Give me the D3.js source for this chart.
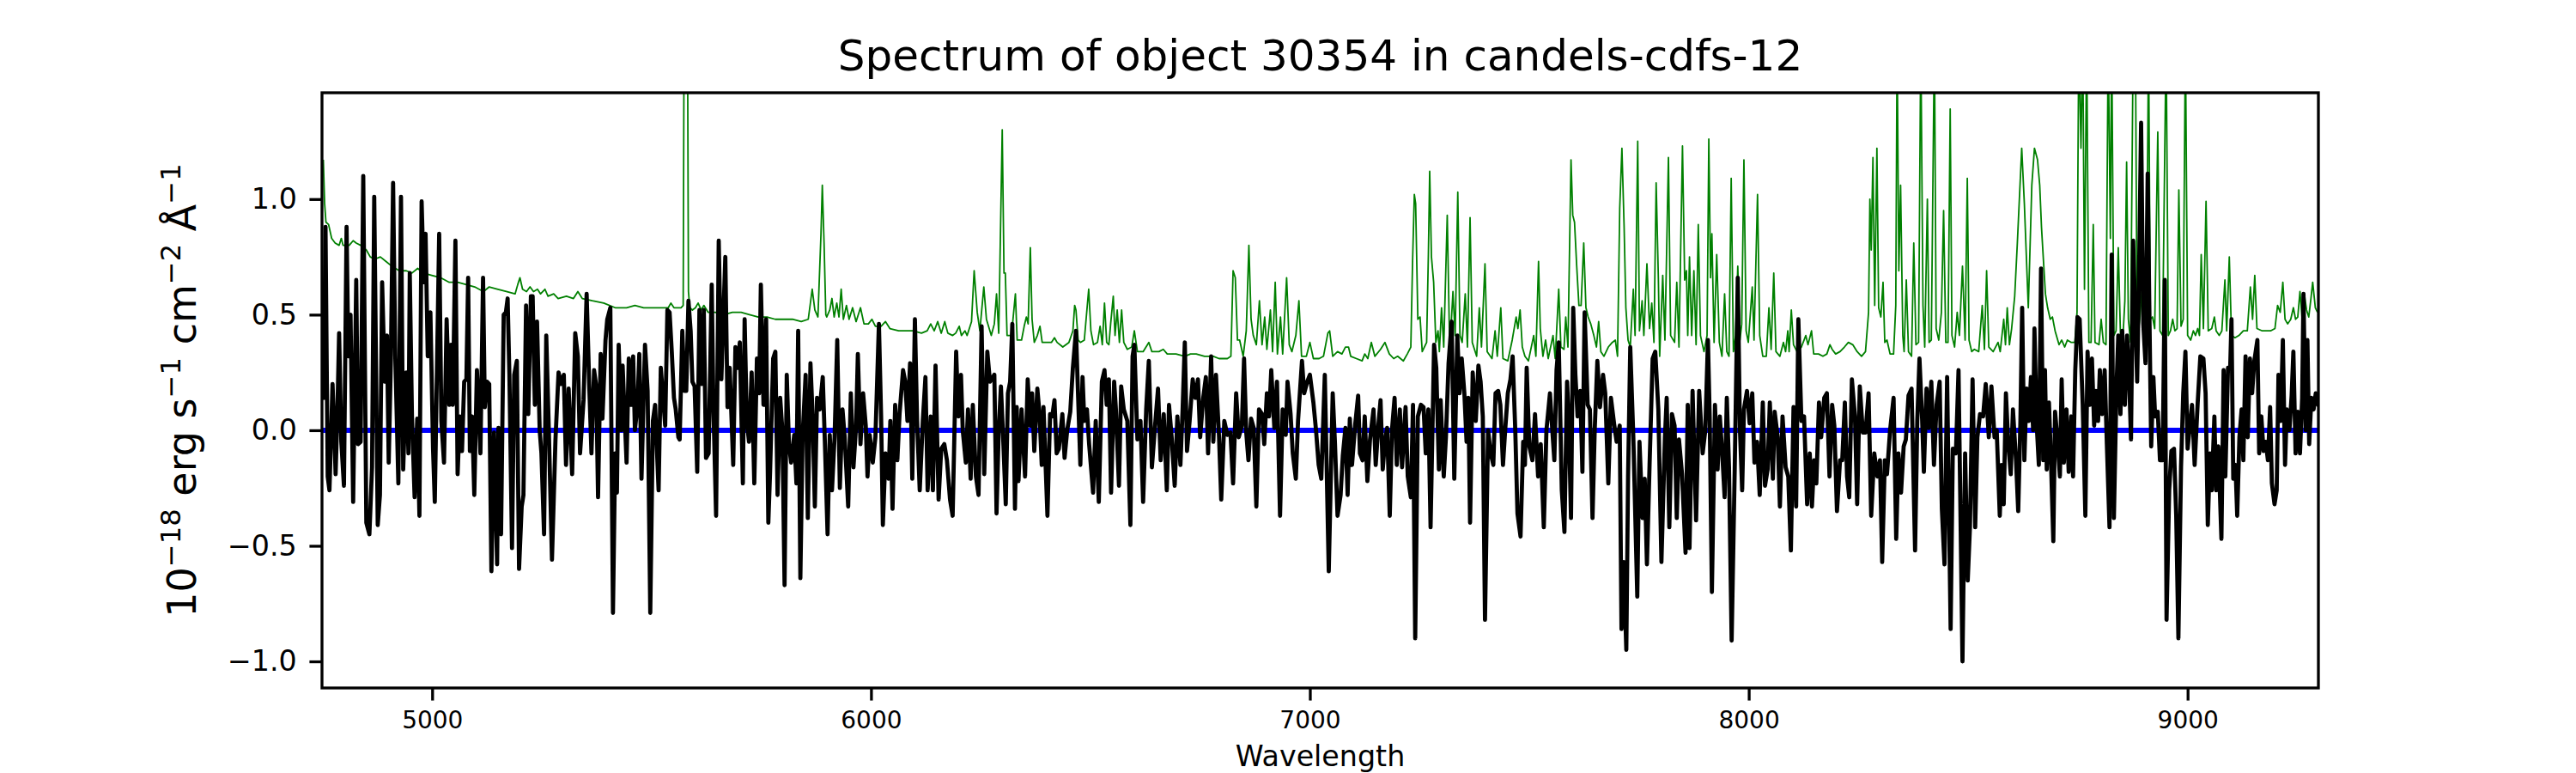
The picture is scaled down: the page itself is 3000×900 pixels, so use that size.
<!DOCTYPE html>
<html>
<head>
<meta charset="utf-8">
<script src="https://cdn.jsdelivr.net/npm/d3@7/dist/d3.min.js"></script>
<style>
  body { margin: 0; background: #fff; }
  svg text { font-family: "DejaVu Sans", sans-serif; fill: #000; }
</style>
</head>
<body>
<div id="chart"></div>
<script>
// figure size and axes box (same proportions as the original plot)
const w = 3000;
const h = 900;
const margin = { left: 375, right: 300, top: 108, bottom: 99 };

// wavelength range shown and tick values
const xDomain = [4749, 9298];
const yDomain = [-1.115, 1.46];
const xTicks = [5000, 6000, 7000, 8000, 9000];
const yTicks = [-1.0, -0.5, 0.0, 0.5, 1.0];

// object flux [wavelength, flux]
const fluxPoints = [
  [4753,0.14],[4757,0.88],[4762,-0.2],[4766,-0.26],[4773,0.2],[4777,0],[4780,-0.19],[4784,0.07],[4788,0.42],[4793,-0.05],
  [4799,-0.24],[4805,0.88],[4809,0.32],[4814,0.5],[4820,-0.31],[4827,0.65],[4831,-0.06],[4837,-0.05],[4843,1.1],[4850,-0.4],
  [4857,-0.45],[4863,-0.16],[4868,1.01],[4876,-0.41],[4881,-0.28],[4886,0.64],[4892,0.21],[4897,0.41],[4901,-0.14],[4906,0.31],
  [4911,1.07],[4916,0.32],[4923,-0.23],[4929,1.01],[4934,-0.17],[4941,0.25],[4946,-0.1],[4949,0.68],[4954,0.06],[4960,-0.29],
  [4966,0.05],[4971,-0.37],[4976,0.99],[4981,0.64],[4985,0.85],[4990,0.32],[4996,0.51],[5002,-0.08],[5006,-0.31],[5016,0.85],
  [5021,0.04],[5027,-0.14],[5033,0.48],[5039,0.11],[5043,0.37],[5047,0.11],[5053,0.82],[5058,-0.19],[5063,0.06],[5068,-0.09],
  [5073,0.21],[5078,0.22],[5082,0.66],[5086,-0.09],[5091,0.06],[5096,-0.28],[5102,0.26],[5106,0.11],[5110,-0.1],[5116,0.66],
  [5120,0.1],[5125,0.21],[5130,0.2],[5135,-0.61],[5141,-0.01],[5148,-0.58],[5151,0.01],[5157,-0.45],[5163,0.5],[5168,0.51],
  [5172,0.57],[5176,0.24],[5182,-0.51],[5187,0.24],[5193,0.3],[5198,-0.6],[5204,-0.33],[5208,-0.28],[5214,0.54],[5219,0.07],
  [5225,0.58],[5229,0.58],[5234,0.11],[5239,0.47],[5245,0],[5249,-0.1],[5255,-0.45],[5260,0.41],[5266,-0.01],[5273,-0.56],
  [5281,-0.04],[5288,0.25],[5294,0.2],[5300,0.24],[5305,-0.15],[5311,0.18],[5319,-0.19],[5326,0.42],[5332,0.32],[5337,-0.1],
  [5345,0.13],[5352,0.59],[5358,0.19],[5363,-0.1],[5369,0.26],[5374,0.19],[5378,-0.29],[5384,0.33],[5388,0.05],[5395,0.39],
  [5399,0.48],[5406,0.53],[5412,-0.79],[5417,-0.1],[5421,-0.27],[5425,0.37],[5431,0],[5434,0.28],[5443,-0.14],[5448,0.31],
  [5453,0.11],[5458,0.32],[5462,0],[5468,0.11],[5472,0.33],[5477,-0.21],[5485,0.37],[5491,0.17],[5497,-0.79],[5503,0.04],
  [5508,0.11],[5516,-0.26],[5521,0.27],[5531,0.02],[5536,0.52],[5541,0.51],[5546,0.34],[5551,0.14],[5555,0.09],[5561,-0.03],
  [5564,-0.04],[5570,0.43],[5575,0.17],[5579,0.17],[5584,0.56],[5589,0.43],[5593,0.21],[5598,0.19],[5604,-0.18],[5609,0.52],
  [5614,0.2],[5619,0.52],[5624,-0.12],[5630,-0.1],[5637,0.63],[5641,0.09],[5647,-0.37],[5653,0.82],[5659,0.22],[5668,0.75],
  [5673,0.1],[5678,0.27],[5686,-0.15],[5691,0.36],[5696,0.27],[5701,0.38],[5708,-0.23],[5712,0.48],[5717,0.04],[5722,-0.05],
  [5728,0.25],[5734,-0.23],[5740,0.31],[5745,0.16],[5749,0.63],[5755,0.11],[5761,0.48],[5766,-0.4],[5770,-0.18],[5777,0.31],
  [5782,0.34],[5787,-0.28],[5793,0.14],[5798,0],[5803,-0.67],[5808,0.24],[5813,-0.06],[5818,-0.14],[5825,-0.02],[5830,-0.23],
  [5834,0.43],[5839,-0.64],[5844,-0.03],[5851,0.24],[5856,-0.38],[5862,0.29],[5867,0.06],[5872,-0.33],[5877,0.14],[5883,0.09],
  [5890,0.23],[5895,-0.06],[5901,-0.45],[5906,-0.02],[5911,-0.26],[5917,-0.03],[5923,0.39],[5929,-0.25],[5935,0.09],[5940,-0.03],
  [5948,-0.33],[5954,0.16],[5960,-0.16],[5966,0.02],[5970,0.33],[5976,-0.06],[5982,0.16],[5988,0.02],[5992,-0.2],[5997,-0.02],
  [6004,-0.14],[6010,-0.03],[6018,0.46],[6023,0.06],[6027,-0.41],[6033,-0.1],[6040,-0.21],[6044,0.04],[6049,-0.34],[6055,0.11],
  [6060,-0.13],[6065,0.07],[6073,0.26],[6078,0.21],[6083,0.04],[6089,0.29],[6094,-0.21],[6100,0.48],[6105,0.04],[6111,-0.26],
  [6118,0.04],[6124,0.23],[6129,-0.26],[6136,0.06],[6141,-0.26],[6147,0.28],[6154,-0.3],[6160,-0.08],[6167,-0.06],[6173,-0.13],
  [6180,-0.3],[6186,-0.37],[6194,0.34],[6199,0.06],[6205,0.24],[6209,0],[6216,-0.14],[6221,0.09],[6227,-0.21],[6232,0.11],
  [6239,-0.2],[6245,-0.28],[6252,0.45],[6258,-0.19],[6265,0.34],[6271,0.21],[6281,0.24],[6286,-0.36],[6291,0],[6296,0.19],
  [6301,-0.03],[6307,-0.32],[6312,0.16],[6317,0.21],[6322,0.46],[6328,-0.34],[6332,0.1],[6336,-0.22],[6343,0.09],[6347,-0.06],
  [6351,-0.2],[6357,0.22],[6363,0.02],[6367,0.16],[6372,-0.09],[6379,0.18],[6384,0.07],[6389,-0.15],[6393,0.1],[6402,-0.37],
  [6408,0.07],[6413,0.06],[6418,0.13],[6423,-0.1],[6428,-0.08],[6436,0.07],[6441,-0.12],[6447,0],[6454,0.08],[6460,0.27],
  [6467,0.43],[6472,0.14],[6477,-0.15],[6482,0.23],[6486,0.04],[6492,0.09],[6497,-0.06],[6506,-0.27],[6512,0.04],[6519,-0.31],
  [6526,0.21],[6532,0.26],[6537,0.11],[6542,0.22],[6547,-0.27],[6554,0.21],[6558,0.09],[6565,-0.24],[6570,0.19],[6576,0.09],
  [6584,0.04],[6591,-0.41],[6596,0.32],[6600,0.37],[6607,-0.04],[6614,0.04],[6620,-0.31],[6627,0.09],[6633,0.3],[6640,-0.16],
  [6646,-0.01],[6654,0.18],[6660,-0.13],[6667,0.07],[6674,-0.26],[6679,0.11],[6685,-0.03],[6692,-0.24],[6698,0.06],[6705,-0.15],
  [6710,0.09],[6715,0.38],[6720,-0.09],[6726,0.04],[6733,0.22],[6739,0.14],[6745,0.22],[6750,-0.03],[6757,0.14],[6763,0.23],
  [6768,-0.1],[6775,0.32],[6780,-0.05],[6786,0.24],[6793,-0.03],[6798,-0.3],[6805,0.04],[6812,-0.02],[6819,-0.01],[6825,-0.23],
  [6832,0.16],[6838,-0.03],[6845,0.02],[6850,0.31],[6855,-0.01],[6860,-0.13],[6866,0.05],[6872,0.01],[6878,-0.33],[6884,0.09],
  [6891,0.07],[6896,-0.06],[6902,0.16],[6907,0.06],[6912,0.26],[6919,0.01],[6925,0.21],[6932,-0.37],[6938,0.09],[6945,-0.02],
  [6949,0.21],[6956,0.07],[6961,-0.1],[6968,-0.21],[6973,0.04],[6982,0.3],[6987,0.16],[6994,0.21],[7000,0.24],[7008,0.12],
  [7014,0],[7020,-0.15],[7026,-0.21],[7034,0.24],[7043,-0.61],[7052,0.16],[7057,-0.05],[7063,-0.37],[7070,-0.28],[7075,-0.11],
  [7081,0.01],[7086,-0.28],[7091,0.05],[7096,-0.15],[7103,0.02],[7110,0.15],[7114,-0.1],[7120,-0.13],[7125,0.06],[7131,-0.22],
  [7137,-0.04],[7145,0.09],[7150,-0.15],[7156,0.02],[7161,0.13],[7166,-0.17],[7171,-0.05],[7176,0.01],[7182,-0.37],[7187,0],
  [7193,0.14],[7198,-0.15],[7205,0.09],[7210,-0.16],[7218,0.1],[7223,-0.2],[7230,-0.29],[7235,0.11],[7240,-0.9],[7246,0.06],
  [7253,0.11],[7259,0.1],[7264,-0.1],[7270,0.09],[7275,-0.42],[7283,0.37],[7288,0.27],[7294,-0.17],[7298,0.13],[7305,-0.2],
  [7310,-0.03],[7316,0.29],[7323,0.47],[7329,-0.21],[7336,0.41],[7341,0.16],[7346,0.31],[7352,0.16],[7357,-0.05],[7361,0.14],
  [7365,-0.4],[7371,0.25],[7378,0.04],[7384,0.28],[7389,0.21],[7394,0.06],[7399,-0.82],[7406,0],[7412,-0.1],[7418,-0.15],
  [7423,0.16],[7429,0.17],[7434,0.11],[7440,-0.15],[7445,0],[7451,0.16],[7457,0.22],[7462,0.32],[7468,0],[7473,-0.36],
  [7480,-0.46],[7486,-0.05],[7490,-0.15],[7494,0.27],[7500,-0.07],[7507,-0.13],[7513,0.07],[7520,-0.2],[7526,-0.06],[7533,-0.42],
  [7539,0],[7547,0.16],[7551,0.04],[7557,-0.13],[7562,0.26],[7567,0.38],[7574,-0.26],[7580,-0.44],[7586,0.21],[7590,0.04],
  [7595,-0.38],[7600,0.53],[7605,0.24],[7610,0.06],[7616,0.17],[7621,-0.18],[7626,0.51],[7633,0.11],[7638,0.09],[7644,-0.38],
  [7649,0],[7655,0.3],[7661,0.1],[7668,0.24],[7673,0.16],[7680,-0.23],[7686,0.14],[7693,0.03],[7699,-0.05],[7706,0.02],
  [7710,-0.86],[7715,-0.57],[7721,-0.95],[7725,-0.2],[7730,0.36],[7737,-0.03],[7746,-0.72],[7751,-0.05],[7758,-0.38],[7763,-0.21],
  [7768,-0.58],[7774,-0.15],[7781,0.31],[7787,0.34],[7794,0.09],[7801,-0.57],[7809,-0.03],[7813,0.14],[7819,-0.42],[7825,0.07],
  [7831,0.02],[7836,-0.38],[7841,-0.04],[7848,-0.19],[7856,-0.53],[7861,0.11],[7865,-0.51],[7872,0.17],[7880,-0.39],[7887,0.17],
  [7895,-0.1],[7901,0],[7907,0.39],[7911,0.06],[7916,-0.7],[7923,0.11],[7929,-0.17],[7934,0.06],[7939,-0.08],[7945,-0.29],
  [7950,0.14],[7955,-0.16],[7961,-0.91],[7968,-0.17],[7975,0.66],[7980,0],[7985,-0.26],[7989,0.09],[7996,0.17],[8002,0.03],
  [8008,0.16],[8013,-0.14],[8019,-0.05],[8025,-0.28],[8032,0.12],[8037,-0.24],[8043,-0.17],[8048,0.12],[8055,-0.21],[8059,0.08],
  [8066,-0.03],[8071,-0.33],[8077,0.06],[8084,-0.16],[8090,-0.2],[8096,-0.52],[8102,0.1],[8108,-0.33],[8113,0.48],[8120,0.04],
  [8126,0.06],[8133,-0.32],[8139,-0.1],[8144,-0.33],[8149,-0.13],[8154,-0.23],[8160,0.12],[8165,-0.03],[8172,0.14],[8178,0.16],
  [8184,-0.2],[8190,0.11],[8195,0.02],[8201,-0.35],[8208,-0.13],[8213,-0.13],[8219,0.12],[8224,-0.2],[8229,-0.29],[8235,0.22],
  [8242,0.06],[8247,-0.32],[8253,0.19],[8260,-0.01],[8266,-0.01],[8273,0.16],[8279,-0.37],[8286,-0.1],[8293,-0.2],[8299,-0.13],
  [8304,-0.57],[8310,-0.13],[8315,-0.19],[8322,0],[8330,0.14],[8336,-0.47],[8341,-0.1],[8347,-0.27],[8353,-0.07],[8358,-0.04],
  [8364,0.15],[8371,0.18],[8379,-0.52],[8384,0.04],[8389,0.31],[8395,0.05],[8399,-0.18],[8405,0.18],[8410,0.01],[8416,0.21],
  [8422,-0.15],[8428,0.11],[8435,0.21],[8440,-0.34],[8446,-0.58],[8452,0.23],[8460,-0.86],[8465,-0.08],[8472,-0.1],[8478,0.26],
  [8487,-1.0],[8493,-0.1],[8499,-0.65],[8504,-0.42],[8510,0.22],[8516,-0.42],[8521,-0.03],[8527,0.07],[8534,0.06],[8540,0.2],
  [8547,-0.03],[8553,0.19],[8560,-0.03],[8565,0],[8572,-0.37],[8576,-0.15],[8581,-0.32],[8586,0.16],[8591,-0.05],[8597,-0.19],
  [8602,0.09],[8609,-0.13],[8614,-0.35],[8619,0.04],[8623,0.53],[8628,-0.13],[8633,0.18],[8638,0.04],[8643,0.23],[8648,0],
  [8651,0.44],[8656,0.03],[8661,-0.15],[8666,0.7],[8671,-0.13],[8675,0.26],[8679,-0.17],[8684,0.12],[8688,-0.09],[8694,-0.48],
  [8698,0.08],[8703,-0.03],[8709,-0.2],[8713,0.22],[8718,-0.14],[8724,0.09],[8729,-0.18],[8735,0.06],[8739,-0.2],[8744,0.26],
  [8749,0.49],[8754,0.48],[8761,0.11],[8767,-0.37],[8772,0.34],[8777,0.11],[8782,0.31],[8787,0.02],[8791,0.17],[8796,0.04],
  [8800,0.26],[8805,0.07],[8811,0.26],[8816,-0.06],[8822,-0.42],[8827,0.76],[8832,-0.38],[8838,0.19],[8842,0.41],[8847,0.07],
  [8851,0.43],[8857,0.11],[8862,0.41],[8866,0.27],[8871,-0.04],[8876,0.82],[8881,0.48],[8885,0.21],[8889,0.63],[8894,1.33],
  [8899,0.46],[8904,0.29],[8909,1.11],[8913,0.49],[8917,-0.07],[8922,0.23],[8926,0.06],[8932,0.08],[8937,-0.13],[8943,-0.13],
  [8948,0.65],[8952,-0.82],[8958,-0.26],[8963,-0.09],[8969,-0.08],[8974,-0.37],[8979,-0.9],[8985,-0.16],[8990,0.16],[8995,0.34],
  [9000,-0.08],[9005,0.02],[9010,0.11],[9016,-0.15],[9023,0.12],[9029,0.32],[9036,0.31],[9041,0.16],[9046,-0.41],[9051,-0.1],
  [9055,-0.26],[9061,0.06],[9065,-0.26],[9070,-0.07],[9077,-0.47],[9082,0.26],[9086,-0.2],[9092,0.27],[9097,0.27],[9100,0.48],
  [9104,-0.21],[9109,-0.15],[9113,-0.37],[9118,-0.03],[9123,0.09],[9127,-0.13],[9132,0.32],[9137,-0.03],[9142,0.31],[9147,0.16],
  [9152,0.3],[9159,0.39],[9163,-0.1],[9168,0.06],[9173,-0.09],[9178,-0.05],[9183,-0.13],[9188,0.1],[9192,-0.23],[9198,-0.32],
  [9203,-0.26],[9207,0.24],[9212,0.04],[9217,0.39],[9222,-0.15],[9226,0.09],[9232,0],[9237,0.15],[9241,0.34],[9246,-0.1],
  [9251,0.08],[9256,-0.1],[9261,0.14],[9264,0.59],[9269,0],[9273,0.39],[9277,-0.06],[9282,0.14],[9287,0.09],[9292,0.16],
  [9297,0.11]
];

// sky spectrum (green)
const skyPoints = [
  [4752,1.17],[4755,0.98],[4758,0.9],[4764,0.89],[4771,0.83],[4779,0.81],[4788,0.8],[4793,0.83],[4797,0.8],[4811,0.8],
  [4820,0.82],[4827,0.81],[4837,0.8],[4850,0.78],[4859,0.75],[4869,0.74],[4882,0.75],[4895,0.73],[4908,0.71],[4925,0.69],
  [4941,0.69],[4954,0.68],[4967,0.7],[4980,0.68],[4999,0.67],[5019,0.66],[5039,0.64],[5058,0.64],[5078,0.63],[5097,0.62],
  [5117,0.6],[5130,0.62],[5150,0.61],[5169,0.6],[5189,0.59],[5195,0.63],[5200,0.66],[5206,0.61],[5215,0.6],[5223,0.62],
  [5231,0.6],[5240,0.61],[5247,0.59],[5257,0.61],[5264,0.58],[5277,0.59],[5287,0.57],[5306,0.58],[5322,0.57],[5332,0.6],
  [5342,0.57],[5365,0.56],[5391,0.55],[5417,0.53],[5443,0.53],[5462,0.54],[5482,0.53],[5508,0.53],[5521,0.53],[5538,0.53],
  [5544,0.55],[5551,0.53],[5567,0.53],[5572,0.54],[5575,2.3],[5578,3.0],[5581,2.2],[5584,0.6],[5587,0.53],[5593,0.52],
  [5600,0.53],[5606,0.55],[5613,0.52],[5619,0.54],[5629,0.51],[5645,0.51],[5665,0.5],[5684,0.51],[5704,0.51],[5723,0.5],
  [5743,0.49],[5763,0.49],[5782,0.48],[5802,0.48],[5821,0.48],[5841,0.47],[5857,0.48],[5866,0.61],[5872,0.52],[5879,0.49],
  [5886,0.85],[5889,1.06],[5893,0.81],[5897,0.5],[5899,0.49],[5906,0.52],[5911,0.57],[5916,0.49],[5922,0.55],[5927,0.49],
  [5932,0.61],[5937,0.48],[5944,0.54],[5950,0.48],[5958,0.53],[5966,0.47],[5976,0.53],[5984,0.46],[5994,0.46],[6002,0.48],
  [6010,0.45],[6023,0.45],[6033,0.47],[6043,0.44],[6063,0.43],[6076,0.43],[6095,0.43],[6115,0.42],[6128,0.43],[6136,0.46],
  [6144,0.43],[6152,0.47],[6160,0.42],[6168,0.47],[6175,0.42],[6186,0.41],[6193,0.42],[6201,0.45],[6206,0.41],[6214,0.43],
  [6219,0.41],[6229,0.47],[6235,0.69],[6242,0.51],[6248,0.43],[6257,0.62],[6263,0.48],[6274,0.41],[6281,0.46],[6286,0.59],
  [6291,0.42],[6299,1.3],[6303,0.68],[6306,0.68],[6310,0.41],[6320,0.41],[6329,0.59],[6333,0.39],[6343,0.39],[6349,0.45],
  [6354,0.49],[6358,0.46],[6363,0.79],[6367,0.48],[6372,0.38],[6379,0.41],[6385,0.45],[6390,0.38],[6402,0.38],[6411,0.38],
  [6418,0.4],[6424,0.38],[6437,0.36],[6451,0.38],[6460,0.43],[6464,0.54],[6467,0.52],[6472,0.39],[6477,0.38],[6486,0.39],
  [6496,0.61],[6501,0.43],[6507,0.37],[6516,0.38],[6522,0.45],[6527,0.37],[6532,0.55],[6537,0.38],[6542,0.37],[6546,0.46],
  [6552,0.58],[6556,0.41],[6561,0.52],[6566,0.38],[6571,0.52],[6576,0.38],[6584,0.35],[6594,0.36],[6600,0.43],[6607,0.34],
  [6620,0.34],[6633,0.38],[6640,0.34],[6656,0.34],[6666,0.35],[6675,0.33],[6695,0.33],[6715,0.32],[6728,0.33],[6741,0.33],
  [6760,0.32],[6780,0.32],[6793,0.31],[6812,0.31],[6820,0.32],[6825,0.69],[6830,0.66],[6835,0.39],[6840,0.39],[6848,0.32],
  [6855,0.43],[6861,0.8],[6866,0.48],[6871,0.41],[6878,0.37],[6885,0.56],[6891,0.37],[6897,0.49],[6902,0.35],[6910,0.52],
  [6915,0.34],[6921,0.64],[6926,0.33],[6933,0.49],[6938,0.33],[6947,0.66],[6953,0.37],[6959,0.34],[6968,0.41],[6975,0.56],
  [6981,0.32],[6992,0.32],[7000,0.38],[7008,0.31],[7021,0.31],[7031,0.32],[7041,0.42],[7045,0.43],[7052,0.32],[7063,0.34],
  [7073,0.33],[7081,0.36],[7088,0.36],[7093,0.32],[7106,0.31],[7119,0.3],[7125,0.33],[7132,0.31],[7140,0.38],[7148,0.32],
  [7161,0.35],[7171,0.38],[7181,0.33],[7191,0.31],[7200,0.32],[7213,0.3],[7222,0.33],[7230,0.36],[7234,0.73],[7238,1.02],
  [7241,0.98],[7246,0.48],[7251,0.49],[7256,0.34],[7266,0.38],[7270,0.76],[7273,1.12],[7277,0.75],[7282,0.64],[7287,0.38],
  [7292,0.43],[7295,0.34],[7300,0.53],[7305,0.36],[7313,0.93],[7318,0.41],[7322,0.46],[7326,0.6],[7331,0.41],[7337,1.03],
  [7342,0.41],[7347,0.38],[7354,0.59],[7359,0.36],[7365,0.92],[7370,0.38],[7380,0.32],[7386,0.53],[7391,0.36],[7399,0.72],
  [7404,0.34],[7415,0.31],[7422,0.43],[7427,0.32],[7435,0.53],[7440,0.31],[7451,0.3],[7461,0.39],[7470,0.49],[7474,0.44],
  [7479,0.52],[7484,0.36],[7490,0.32],[7498,0.3],[7510,0.41],[7515,0.32],[7521,0.73],[7525,0.44],[7531,0.32],[7537,0.39],
  [7543,0.31],[7554,0.41],[7559,0.31],[7567,0.61],[7572,0.36],[7579,0.35],[7583,0.49],[7588,0.36],[7595,1.17],[7599,0.93],
  [7603,0.9],[7608,0.71],[7613,0.54],[7618,0.54],[7624,0.81],[7629,0.53],[7634,0.49],[7640,0.46],[7647,0.41],[7653,0.36],
  [7658,0.47],[7663,0.34],[7670,0.32],[7680,0.36],[7689,0.38],[7696,0.39],[7701,0.32],[7706,0.96],[7711,1.22],[7716,0.88],
  [7720,0.53],[7725,0.39],[7730,0.36],[7737,0.61],[7741,0.41],[7747,1.25],[7751,0.43],[7757,0.56],[7761,0.41],[7768,0.72],
  [7774,0.44],[7779,0.55],[7784,0.38],[7789,1.07],[7794,0.66],[7797,0.32],[7804,0.67],[7809,0.39],[7817,1.18],[7822,0.41],
  [7831,0.38],[7836,0.64],[7841,0.36],[7849,1.23],[7854,0.65],[7858,0.69],[7861,0.41],[7865,0.75],[7870,0.41],[7875,0.69],
  [7880,0.37],[7885,0.89],[7890,0.41],[7898,0.34],[7905,0.41],[7909,1.26],[7913,0.66],[7916,0.85],[7921,0.38],[7927,0.76],
  [7933,0.38],[7939,0.32],[7945,0.59],[7950,0.34],[7955,0.32],[7960,1.09],[7965,0.34],[7970,0.41],[7975,0.71],[7980,0.39],
  [7984,0.46],[7989,1.17],[7994,0.43],[7999,0.38],[8008,0.62],[8012,0.39],[8020,1.02],[8025,0.41],[8032,0.32],[8040,0.32],
  [8046,0.53],[8051,0.35],[8057,0.68],[8062,0.34],[8071,0.32],[8079,0.38],[8084,0.34],[8089,0.43],[8092,0.34],[8097,0.52],
  [8102,0.37],[8110,0.34],[8120,0.36],[8130,0.41],[8135,0.37],[8143,0.43],[8148,0.33],[8159,0.33],[8169,0.32],[8178,0.33],
  [8185,0.37],[8190,0.35],[8198,0.33],[8208,0.34],[8218,0.36],[8227,0.38],[8237,0.37],[8247,0.34],[8257,0.32],[8266,0.34],
  [8273,0.51],[8276,1.0],[8279,0.78],[8283,1.18],[8287,0.54],[8292,1.22],[8296,0.53],[8301,0.49],[8306,0.64],[8310,0.38],
  [8315,0.39],[8322,0.33],[8330,0.33],[8335,0.54],[8338,1.7],[8342,0.69],[8346,1.06],[8351,0.41],[8354,0.34],[8359,0.65],
  [8364,0.34],[8371,0.32],[8376,0.81],[8381,0.37],[8387,0.38],[8392,1.7],[8397,0.54],[8401,0.36],[8407,1.0],[8411,0.38],
  [8416,0.39],[8423,1.7],[8427,0.44],[8433,0.39],[8439,0.51],[8444,0.95],[8449,0.38],[8454,0.38],[8459,1.39],[8463,0.41],
  [8469,0.36],[8475,0.51],[8480,0.41],[8487,0.71],[8493,0.39],[8498,1.09],[8502,0.39],[8508,0.34],[8514,0.35],[8524,0.34],
  [8532,0.54],[8537,0.35],[8542,0.69],[8547,0.36],[8557,0.34],[8568,0.38],[8573,0.34],[8581,0.48],[8585,0.37],[8589,0.53],
  [8594,0.37],[8599,0.44],[8606,0.58],[8612,0.81],[8622,1.22],[8628,0.98],[8637,0.53],[8645,1.06],[8651,1.22],[8658,1.17],
  [8663,1.06],[8667,0.88],[8671,0.75],[8676,0.59],[8681,0.53],[8687,0.48],[8692,0.49],[8698,0.43],[8707,0.37],[8713,0.39],
  [8720,0.36],[8726,0.39],[8735,0.38],[8743,0.38],[8748,0.51],[8752,1.7],[8757,1.22],[8761,1.7],[8765,0.61],[8770,1.7],
  [8775,0.38],[8780,0.38],[8785,0.89],[8789,0.38],[8798,0.37],[8803,0.48],[8808,0.38],[8814,0.37],[8819,1.7],[8824,0.83],
  [8827,1.7],[8832,0.41],[8837,0.43],[8842,0.79],[8847,0.41],[8852,0.38],[8857,0.56],[8861,1.16],[8865,0.48],[8870,0.38],
  [8876,1.7],[8881,1.7],[8885,0.39],[8891,0.48],[8896,0.61],[8899,0.46],[8906,0.48],[8911,1.7],[8915,0.48],[8920,0.49],
  [8925,0.44],[8932,1.29],[8937,0.43],[8943,0.41],[8951,1.7],[8956,0.41],[8961,0.43],[8966,0.48],[8971,0.43],[8976,0.44],
  [8980,1.04],[8985,0.45],[8990,0.48],[8995,1.7],[9000,0.41],[9007,0.39],[9013,0.43],[9018,0.41],[9023,0.44],[9027,0.41],
  [9031,0.76],[9036,0.44],[9042,0.99],[9047,0.43],[9055,0.44],[9061,0.49],[9065,0.43],[9072,0.41],[9078,0.43],[9085,0.65],
  [9089,0.43],[9095,0.75],[9100,0.41],[9108,0.4],[9117,0.41],[9127,0.43],[9136,0.43],[9143,0.62],[9148,0.48],[9153,0.67],
  [9158,0.44],[9170,0.43],[9179,0.43],[9189,0.43],[9199,0.44],[9205,0.54],[9211,0.51],[9217,0.64],[9222,0.48],[9228,0.46],
  [9235,0.48],[9241,0.53],[9246,0.48],[9251,0.49],[9256,0.6],[9261,0.48],[9266,0.59],[9271,0.52],[9276,0.49],[9281,0.57],
  [9285,0.64],[9291,0.53],[9296,0.51]
];

// zero level (blue)
const zeroPoints = [[4749, 0], [9298, 0]];

const titleText = 'Spectrum of object 30354 in candels-cdfs-12';
const xLabelText = 'Wavelength';

// svg area
const svg = d3.select('#chart').append('svg')
  .attr('width', w)
  .attr('height', h)
  .style('display', 'block');

svg.append('rect').attr('width', w).attr('height', h).attr('fill', '#fff');

// scales
const xScale = d3.scaleLinear().domain(xDomain).range([margin.left, w - margin.right]);
const yScale = d3.scaleLinear().domain(yDomain).range([h - margin.bottom, margin.top]);

// clip so the sky lines get cut at the top of the box
svg.append('clipPath').attr('id', 'plot-clip')
  .append('rect')
  .attr('x', margin.left)
  .attr('y', margin.top)
  .attr('width', w - margin.left - margin.right)
  .attr('height', h - margin.top - margin.bottom);

const line = d3.line()
  .x(d => xScale(d[0]))
  .y(d => yScale(d[1]));

const plot = svg.append('g').attr('clip-path', 'url(#plot-clip)');

// sky first, then the zero level, the flux goes on top
plot.append('path')
  .datum(skyPoints)
  .attr('d', line)
  .attr('fill', 'none')
  .attr('stroke', '#008000')
  .attr('stroke-width', 1.8)
  .attr('stroke-linejoin', 'round');

plot.append('path')
  .datum(zeroPoints)
  .attr('d', line)
  .attr('fill', 'none')
  .attr('stroke', '#0000ff')
  .attr('stroke-width', 6);

plot.append('path')
  .datum(fluxPoints)
  .attr('d', line)
  .attr('fill', 'none')
  .attr('stroke', '#000')
  .attr('stroke-width', 4.8)
  .attr('stroke-linejoin', 'round')
  .attr('stroke-linecap', 'round');

// axes
const xAxis = d3.axisBottom(xScale)
  .tickValues(xTicks)
  .tickFormat(d3.format('d'))
  .tickSizeInner(14.6)
  .tickSizeOuter(0)
  .tickPadding(13);
const gx = svg.append('g')
  .attr('transform', 'translate(0,' + (h - margin.bottom) + ')')
  .call(xAxis);
gx.select('.domain').remove();
gx.selectAll('.tick line').attr('stroke', '#000').attr('stroke-width', 3.3);
gx.selectAll('.tick text')
  .attr('font-size', 28)
  .attr('font-family', '"DejaVu Sans", sans-serif')
  .attr('fill', '#000');

const yAxis = d3.axisLeft(yScale)
  .tickValues(yTicks)
  .tickFormat(d3.format('.1f'))
  .tickSizeInner(14.6)
  .tickSizeOuter(0)
  .tickPadding(14.6);
const gy = svg.append('g')
  .attr('transform', 'translate(' + margin.left + ',0)')
  .call(yAxis);
gy.select('.domain').remove();
gy.selectAll('.tick line').attr('stroke', '#000').attr('stroke-width', 3.3);
gy.selectAll('.tick text')
  .attr('font-size', 33.3)
  .attr('font-family', '"DejaVu Sans", sans-serif')
  .attr('fill', '#000');

// frame
svg.append('rect')
  .attr('x', margin.left)
  .attr('y', margin.top)
  .attr('width', w - margin.left - margin.right)
  .attr('height', h - margin.top - margin.bottom)
  .attr('fill', 'none')
  .attr('stroke', '#000')
  .attr('stroke-width', 3.3);

// title and labels
svg.append('text')
  .attr('x', (margin.left + w - margin.right) / 2)
  .attr('y', 82)
  .attr('text-anchor', 'middle')
  .attr('font-size', 50)
  .text(titleText);

svg.append('text')
  .attr('x', (margin.left + w - margin.right) / 2)
  .attr('y', 892)
  .attr('text-anchor', 'middle')
  .attr('font-size', 33.3)
  .text(xLabelText);

// y label with superscripts
const yLabelParts = [
  ['10', false], ['\u221218', true], [' erg s', false], ['\u22121', true],
  [' cm', false], ['\u22122', true], [' \u00c5', false], ['\u22121', true]
];
const yLabelSize = 46;
const yLabel = svg.append('text')
  .attr('transform', 'translate(228,' + ((margin.top + h - margin.bottom) / 2) + ') rotate(-90)')
  .attr('text-anchor', 'middle')
  .attr('font-size', yLabelSize);
let raised = false;
yLabelParts.forEach(p => {
  const shift = 0.4 * yLabelSize;
  const t = yLabel.append('tspan').text(p[0]);
  if (p[1] && !raised) {
    t.attr('dy', -shift).attr('font-size', yLabelSize * 0.7);
    raised = true;
  } else if (!p[1] && raised) {
    t.attr('dy', shift);
    raised = false;
  }
});
</script>
</body>
</html>
